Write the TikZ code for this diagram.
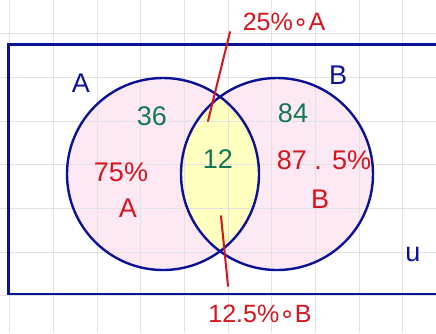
\documentclass[tikz,border=0pt]{standalone}
\usepackage{fontspec}
\setmainfont{Liberation Sans}
\newfontfamily\symfont{DejaVu Sans}
\begin{document}
\begin{tikzpicture}[x=1pt,y=-1pt,
  hand/.style={font=\fontsize{27}{27}\selectfont, inner sep=0pt},
  bluetxt/.style={hand, text=setblue},
  greentxt/.style={hand, text=numgreen},
  redtxt/.style={hand, text=pctred},
  setline/.style={draw=setblue, line width=2.4pt},
  pointer/.style={draw=pctred, line width=2pt, line cap=round},
  gridline/.style={draw=gridgrey, line width=0.8pt}]
\definecolor{setblue}{RGB}{12,18,150}
\definecolor{numgreen}{RGB}{20,120,85}
\definecolor{pctred}{RGB}{215,20,30}
\definecolor{pinkfill}{RGB}{253,233,244}
\definecolor{yellowfill}{RGB}{255,255,192}
\definecolor{gridgrey}{RGB}{226,226,226}
\useasboundingbox (0,0) rectangle (436,333);
\fill[white] (0,0) rectangle (436,333);
% fills
\fill[pinkfill] (163,174) circle (96);
\fill[pinkfill] (277,174) circle (96);
\begin{scope}
  \clip (163,174) circle (96);
  \fill[yellowfill] (277,174) circle (96);
\end{scope}
% grid
\foreach \gx in {9,53,97,140,184,228,271,315,359,402}
  \draw[gridline] (\gx,0) -- (\gx,333);
\foreach \gy in {33,77,121,164,208,252,295}
  \draw[gridline] (0,\gy) -- (436,\gy);
% universe and sets
\draw[setline] (440,44.5) -- (8.5,44.5) -- (8.5,294) -- (440,294);
\draw[setline] (163,174) circle (96);
\draw[setline] (277,174) circle (96);
% labels
\node[bluetxt] (lA) at (81,83) {A};
\node[bluetxt] (lB) at (338,75) {B};
\node[bluetxt] (lU) at (413,254) {u};
\node[greentxt] (n36) at (152,116) {36};
\node[greentxt] (n84) at (293,113) {84};
\node[greentxt] (n12) at (218,159) {12};
\node[redtxt] (p75) at (121,172) {75\%};
\node[redtxt] (pA) at (128,208) {A};
\node[redtxt] (p875) at (324,160) {87 . 5\%};
\node[redtxt] (pB) at (320,199) {B};
\node[redtxt, font=\fontsize{25}{25}\selectfont] (p25) at (284,22) {25\%{\symfont∘}A};
\node[redtxt, font=\fontsize{25}{25}\selectfont] (p125) at (260,314) {12.5\%{\symfont∘}B};
% pointers
\coordinate (t1) at (230,32);
\coordinate (t2) at (208,121);
\coordinate (b1) at (221,216);
\coordinate (b2) at (228,286);
\draw[pointer] (t1) -- (t2);
\draw[pointer] (b1) -- (b2);
\end{tikzpicture}
\end{document}
